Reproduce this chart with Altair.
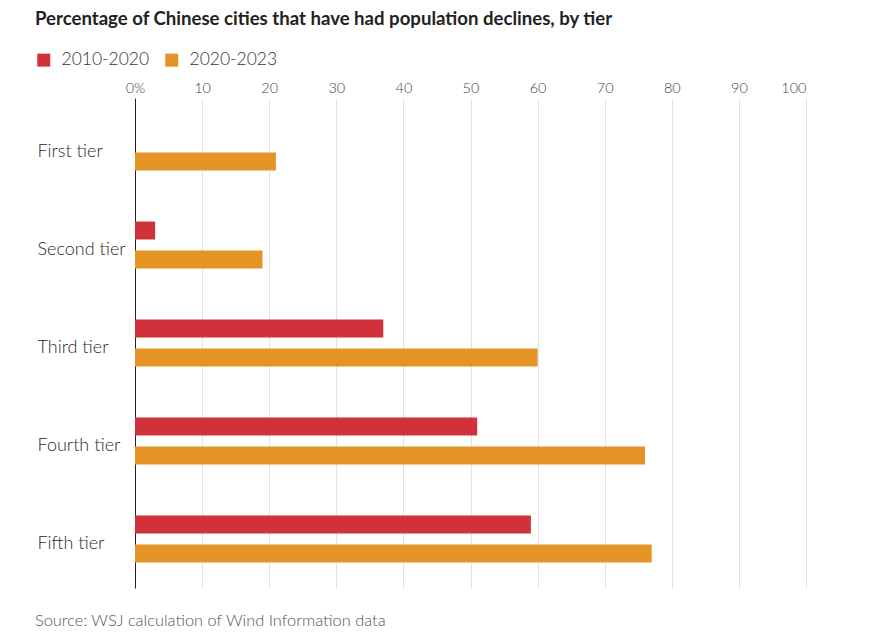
import altair as alt
import pandas as pd

tiers = ["First tier", "Second tier", "Third tier", "Fourth tier", "Fifth tier"]
series = ["2010-2020", "2020-2023"]
v_2010_2020 = [None, 3, 37, 51, 59]
v_2020_2023 = [21, 19, 60, 76, 77]
x_ticks = [0, 10, 20, 30, 40, 50, 60, 70, 80, 90, 100]
colors = ["#d1313a", "#e39424"]
source_text = "Source: WSJ calculation of Wind Information data"
title_text = "Percentage of Chinese cities that have had population declines, by tier"

rows = []
for t, a, b in zip(tiers, v_2010_2020, v_2020_2023):
    if a is not None:
        rows.append({"tier": t, "period": series[0], "value": a})
    if b is not None:
        rows.append({"tier": t, "period": series[1], "value": b})
df = pd.DataFrame(rows)

W, H = 671, 490
FONT = "Lato"

bars = alt.Chart(df).mark_bar(cornerRadius=0).encode(
    x=alt.X("value:Q",
            scale=alt.Scale(domain=[0, 100], nice=False),
            axis=alt.Axis(orient="top", values=x_ticks, title=None,
                          labelExpr="datum.value == 0 ? '0%' : datum.label",
                          labelAlign=alt.expr("datum.value == 100 ? 'right' : 'center'"),
                          domain=False, ticks=False, grid=True,
                          gridColor="#e2e2e2", gridWidth=1,
                          labelFont=FONT, labelFontSize=14.5, labelFontWeight=300,
                          labelColor="#444", labelPadding=3)),
    y=alt.Y("tier:N", sort=tiers,
            scale=alt.Scale(paddingInner=0, paddingOuter=0),
            axis=alt.Axis(title=None, ticks=False, domain=True,
                          domainColor="#222", domainWidth=1,
                          labelAlign="left", labelPadding=98, labelOffset=5,
                          labelFont=FONT, labelFontSize=18, labelFontWeight=300,
                          labelColor="#2a2a2a", labelLimit=200)),
    yOffset=alt.YOffset("period:N", sort=series,
                        scale=alt.Scale(paddingInner=0.38, paddingOuter=0.88)),
    color=alt.Color("period:N", sort=series,
                    scale=alt.Scale(domain=series, range=colors),
                    legend=alt.Legend(title=None, orient="none",
                                      legendX=-100, legendY=-47,
                                      direction="horizontal",
                                      symbolType="square", symbolSize=169,
                                      symbolStrokeWidth=0, symbolOpacity=1,
                                      labelFont=FONT, labelFontSize=17.5,
                                      labelFontWeight=300,
                                      labelColor="#333", labelOffset=9,
                                      columnPadding=13)),
)

src = alt.Chart(pd.DataFrame({"t": [source_text]})).mark_text(
    align="left", baseline="middle", font=FONT, fontSize=16.4, fontWeight=300,
    color="#555"
).encode(
    x=alt.value(-100), y=alt.value(H + 33), text="t:N"
)

chart = alt.layer(bars, src).properties(
    width=W, height=H,
    title=alt.TitleParams(title_text, anchor="start", frame="group", dx=-100,
                          offset=22, font=FONT, fontSize=18.6, fontWeight="bold",
                          color="#222"),
    autosize=alt.AutoSizeParams(type="none"),
    padding={"left": 127, "top": 90, "right": 70, "bottom": 46},
).configure_view(stroke=None)

chart.save("out.html", embed_options={"renderer": "svg", "actions": False})
